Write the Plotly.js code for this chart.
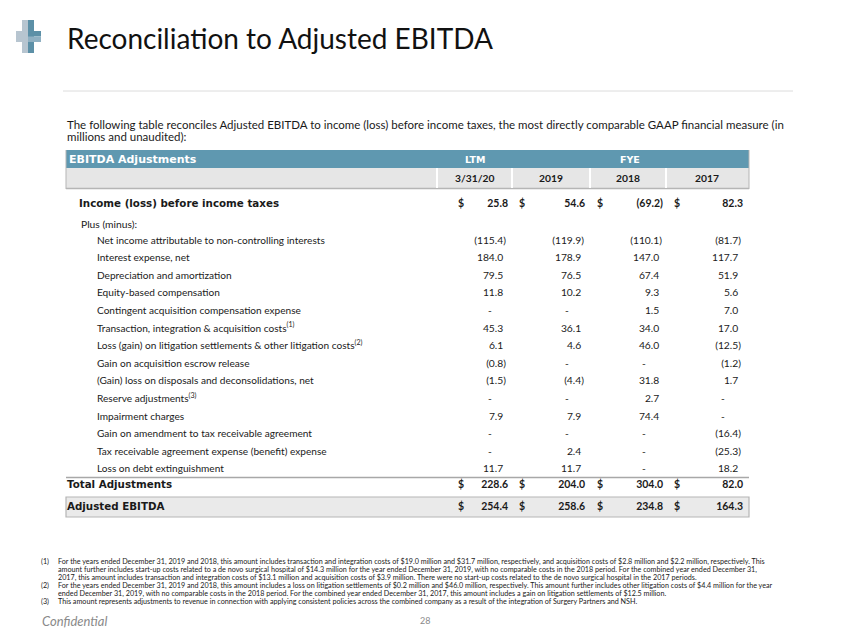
<!DOCTYPE html>
<html><head><meta charset="utf-8">
<script src="https://cdn.plot.ly/plotly-3.0.1.min.js"></script>
<style>html,body{margin:0;padding:0;background:#fff;} #chart{width:850px;height:638px;}</style>
</head><body><div id="chart"></div>
<script>
// ---------- DATA ----------
const periods = ['3/31/20', '2019', '2018', '2017'];
const groupHeaders = ['LTM', 'FYE'];
const incomeLabel = 'Income (loss) before income taxes';
const incomeValues = [25.8, 54.6, -69.2, 82.3];
const adjLabels = [
  'Net income attributable to non-controlling interests',
  'Interest expense, net',
  'Depreciation and amortization',
  'Equity-based compensation',
  'Contingent acquisition compensation expense',
  'Transaction, integration & acquisition costs<sup>(1)</sup>',
  'Loss (gain) on litigation settlements & other litigation costs<sup>(2)</sup>',
  'Gain on acquisition escrow release',
  '(Gain) loss on disposals and deconsolidations, net',
  'Reserve adjustments<sup>(3)</sup>',
  'Impairment charges',
  'Gain on amendment to tax receivable agreement',
  'Tax receivable agreement expense (benefit) expense',
  'Loss on debt extinguishment'
];
const adjLTM  = [-115.4, 184.0, 79.5, 11.8, null, 45.3, 6.1, -0.8, -1.5, null, 7.9, null, null, 11.7];
const adj2019 = [-119.9, 178.9, 76.5, 10.2, null, 36.1, 4.6, null, -4.4, null, 7.9, null, 2.4, 11.7];
const adj2018 = [-110.1, 147.0, 67.4, 9.3, 1.5, 34.0, 46.0, null, 31.8, 2.7, 74.4, null, null, null];
const adj2017 = [-81.7, 117.7, 51.9, 5.6, 7.0, 17.0, -12.5, -1.2, 1.7, null, null, -16.4, -25.3, 18.2];
const totalLabel = 'Total Adjustments';
const totalAdjustments = [228.6, 204.0, 304.0, 82.0];
const ebitdaLabel = 'Adjusted EBITDA';
const adjustedEBITDA = [254.4, 258.6, 234.8, 164.3];
const footnotes = [
  ['(1)', 'For the years ended December 31, 2019 and 2018, this amount includes transaction and integration costs of $19.0 million and $31.7 million, respectively, and acquisition costs of $2.8 million and $2.2 million, respectively. This'],
  ['', 'amount further includes start-up costs related to a de novo surgical hospital of $14.3 million for the year ended December 31, 2019, with no comparable costs in the 2018 period. For the combined year ended December 31,'],
  ['', '2017, this amount includes transaction and integration costs of $13.1 million and acquisition costs of $3.9 million. There were no start-up costs related to the de novo surgical hospital in the 2017 periods.'],
  ['(2)', 'For the years ended December 31, 2019 and 2018, this amount includes a loss on litigation settlements of $0.2 million and $46.0 million, respectively. This amount further includes other litigation costs of $4.4 million for the year'],
  ['', 'ended December 31, 2019, with no comparable costs in the 2018 period. For the combined year ended December 31, 2017, this amount includes a gain on litigation settlements of $12.5 million.'],
  ['(3)', 'This amount represents adjustments to revenue in connection with applying consistent policies across the combined company as a result of the integration of Surgery Partners and NSH.']
];

// ---------- LAYOUT HELPERS ----------
const adjColumns = [adjLTM, adj2019, adj2018, adj2017];
const FONT = 'Lato, "Open Sans", sans-serif';
const BFONT = '"DejaVu Sans", sans-serif';
const TXT = '#1a1a1a';
const colRightNormal = [506, 584, 662, 741];   // right edge incl. ')'
const colRightBold = [508, 585, 663, 743];
const dollarX = [458, 519, 597, 674];
const dashX = [490, 567, 644, 723];
const colCenters = [474, 551, 628, 707];
const rowStart = 241, rowStep = 17.6;
const rowY = adjLabels.map((_, i) => rowStart + i * rowStep);
const incomeY = 204, plusY = 224, totalY = 485, ebitdaY = 507;

const ghost = '<span style="color:rgba(0,0,0,0)">)</span>';
function fmt(v, pad) {
  if (v === null) return '';
  if (v < 0) return '(' + Math.abs(v).toFixed(1) + ')';
  return v.toFixed(1) + (pad ? ghost : '');
}

const traces = [];
traces.push({
  type: 'scatter', mode: 'text', x: adjLabels.map(() => 97), y: rowY,
  text: adjLabels, textposition: 'middle right',
  textfont: {family: FONT, size: 10.1, color: TXT}, hoverinfo: 'skip'
});
traces.push({
  type: 'scatter', mode: 'text', x: [79, 67, 67], y: [incomeY, totalY, ebitdaY],
  text: [incomeLabel, totalLabel, ebitdaLabel], textposition: 'middle right',
  textfont: {family: BFONT, size: 10.3, color: TXT, weight: 'bold'}, hoverinfo: 'skip'
});
adjColumns.forEach((col, c) => {
  const idx = col.map((v, i) => i).filter(i => col[i] !== null);
  traces.push({
    type: 'scatter', mode: 'text',
    x: idx.map(() => colRightNormal[c]), y: idx.map(i => rowY[i]),
    text: idx.map(i => fmt(col[i], true)), textposition: 'middle left',
    textfont: {family: FONT, size: 10.3, color: TXT}, hoverinfo: 'skip'
  });
  const didx = col.map((v, i) => i).filter(i => col[i] === null);
  if (didx.length) traces.push({
    type: 'scatter', mode: 'text',
    x: didx.map(() => dashX[c]), y: didx.map(i => rowY[i]),
    text: didx.map(() => '-'), textposition: 'middle center',
    textfont: {family: FONT, size: 10.3, color: TXT}, hoverinfo: 'skip'
  });
});
[[incomeValues, incomeY], [totalAdjustments, totalY], [adjustedEBITDA, ebitdaY]].forEach(([vals, y]) => {
  traces.push({
    type: 'scatter', mode: 'text', x: colRightBold, y: vals.map(() => y),
    text: vals.map(v => fmt(v, false)), textposition: 'middle left',
    textfont: {family: FONT, size: 10.5, color: TXT, weight: 'bold'}, hoverinfo: 'skip'
  });
  traces.push({
    type: 'scatter', mode: 'text', x: dollarX, y: vals.map(() => y),
    text: vals.map(() => '$'), textposition: 'middle right',
    textfont: {family: FONT, size: 10.5, color: TXT, weight: 'bold'}, hoverinfo: 'skip'
  });
});

// ---------- SHAPES ----------
const shapes = [
  {type: 'rect', x0: 22, x1: 28, y0: 20, y1: 53, fillcolor: '#b7c5d0', line: {width: 0}},
  {type: 'rect', x0: 28, x1: 34, y0: 20, y1: 53, fillcolor: '#5c90a7', line: {width: 0}},
  {type: 'rect', x0: 16, x1: 28, y0: 31, y1: 42, fillcolor: '#b7c5d0', line: {width: 0}},
  {type: 'rect', x0: 28, x1: 41, y0: 31, y1: 36.5, fillcolor: '#5c90a7', line: {width: 0}},
  {type: 'rect', x0: 28, x1: 41, y0: 36.5, y1: 42, fillcolor: '#8fb0c2', line: {width: 0}},
  {type: 'line', x0: 63, x1: 793, y0: 91, y1: 91, line: {color: '#dcdcdc', width: 1}},
  {type: 'rect', layer: 'below', x0: 66, x1: 749, y0: 150, y1: 168, fillcolor: '#5f98b0', line: {width: 0}},
  {type: 'rect', layer: 'below', x0: 66, x1: 749, y0: 168, y1: 188, fillcolor: '#e6e6e6', line: {width: 0}},
  {type: 'line', x0: 66, x1: 749, y0: 188.5, y1: 188.5, line: {color: '#b5b5b5', width: 1.5}},
  {type: 'line', x0: 66, x1: 66, y0: 150, y1: 189, line: {color: '#b5b5b5', width: 1}},
  {type: 'line', x0: 749, x1: 749, y0: 150, y1: 189, line: {color: '#b5b5b5', width: 1}},
  {type: 'line', x0: 66, x1: 749, y0: 477.5, y1: 477.5, line: {color: '#a8a8a8', width: 1.5}},
  {type: 'rect', layer: 'below', x0: 66, x1: 749, y0: 497, y1: 517, fillcolor: '#eaeaea', line: {color: '#b5b5b5', width: 1.2}}
];
[437, 512, 590, 666].forEach(x => shapes.push({type: 'line', x0: x, x1: x, y0: 168, y1: 188, line: {color: '#ffffff', width: 2}}));

// ---------- ANNOTATIONS ----------
const ann = [];
function t(x, y, text, size, opts) {
  ann.push(Object.assign({x, y, xref: 'x', yref: 'y', text, showarrow: false, xanchor: 'left', yanchor: 'middle',
    font: {family: FONT, size, color: TXT}}, opts || {}));
}
t(65, 38, 'Reconciliation to Adjusted EBITDA', 28, {font: {family: FONT, size: 28, color: '#111'}});
t(65, 124, 'The following table reconciles Adjusted EBITDA to income (loss) before income taxes, the most directly comparable GAAP financial measure (in', 11.5);
t(65, 136, 'millions and unaudited):', 11.5);
t(67, 159, '<b>EBITDA Adjustments</b>', 11, {font: {family: BFONT, size: 11, color: '#ffffff'}});
t(474.5, 159, '<b>' + groupHeaders[0] + '</b>', 10, {xanchor: 'center', font: {family: BFONT, size: 9.5, color: '#ffffff'}});
t(630, 159, '<b>' + groupHeaders[1] + '</b>', 10, {xanchor: 'center', font: {family: BFONT, size: 9.5, color: '#ffffff'}});
periods.forEach((p, i) => t(colCenters[i], 178, '<b>' + p + '</b>', 10.3, {xanchor: 'center'}));
t(79, plusY, 'Plus (minus):', 10.3);
const fnY = [561, 569, 577, 585, 593, 601];
footnotes.forEach((f, i) => {
  if (f[0]) t(39, fnY[i], f[0], 7.2);
  t(56, fnY[i], f[1], 7.2);
});
t(40, 621, '<i>Confidential</i>', 13, {font: {family: FONT, size: 13, color: '#8a8a8a'}});
t(425, 620, '28', 9, {xanchor: 'center', font: {family: FONT, size: 9, color: '#8a8a8a'}});

const layout = {
  width: 850, height: 638, margin: {l: 0, r: 0, t: 0, b: 0},
  paper_bgcolor: '#ffffff', plot_bgcolor: '#ffffff', showlegend: false,
  xaxis: {range: [0, 850], visible: false, fixedrange: true},
  yaxis: {range: [638, 0], visible: false, fixedrange: true},
  shapes, annotations: ann
};
Plotly.newPlot('chart', traces, layout, {staticPlot: true, displayModeBar: false});
</script></body></html>
